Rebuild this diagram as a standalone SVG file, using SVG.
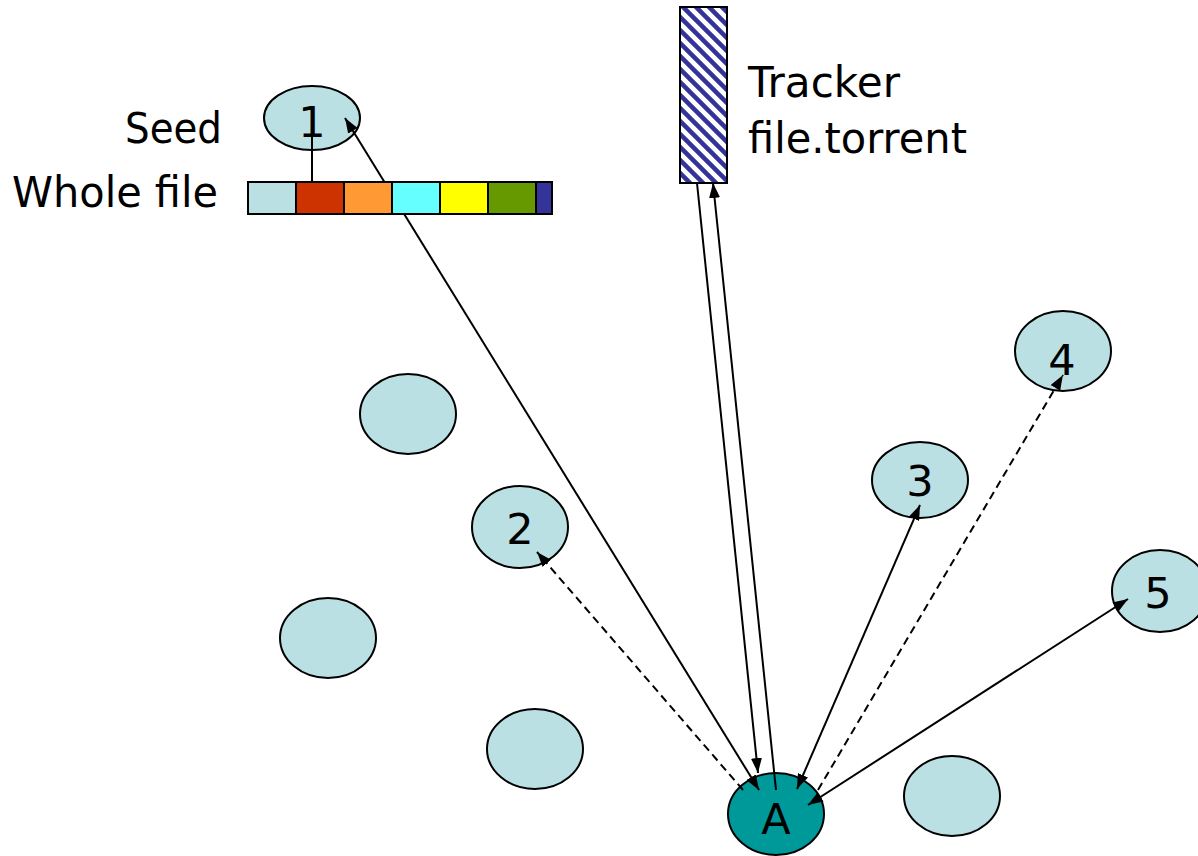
<svg xmlns="http://www.w3.org/2000/svg" width="1198" height="856" viewBox="0 0 1198 856">
<style>
.peer{fill:#BBE0E3;stroke:#000;stroke-width:2}
.a{fill:#009999;stroke:#000;stroke-width:2}
.lbl{font-family:"DejaVu Sans",Verdana,sans-serif;font-size:42px;fill:#000}
.num{font-family:"DejaVu Sans",Verdana,sans-serif;font-size:43px;fill:#000;text-anchor:middle}
.c{stroke:#000;stroke-width:2;fill:none}
.d{stroke:#000;stroke-width:2;fill:none;stroke-dasharray:8,5}
.cell{stroke:#000;stroke-width:2}
</style>
<defs>
<marker id="ah" viewBox="0 0 15 11" refX="15" refY="5.5" markerWidth="15" markerHeight="11" markerUnits="userSpaceOnUse" orient="auto-start-reverse">
<path d="M0,0 L15,5.5 L0,11 z" fill="#000"/>
</marker>
<pattern id="hatch" patternUnits="userSpaceOnUse" width="13" height="13">
<rect width="13" height="13" fill="#fff"/>
<path d="M0,0 L13,13 M-6.5,6.5 L6.5,19.5 M6.5,-6.5 L19.5,6.5" stroke="#333399" stroke-width="4.5"/>
</pattern>
</defs>
<rect width="1198" height="856" fill="#fff"/>

<g id="peers-empty">
<ellipse class="peer" cx="408" cy="414" rx="48" ry="40"/>
<ellipse class="peer" cx="328" cy="638" rx="48" ry="40"/>
<ellipse class="peer" cx="535" cy="749" rx="48" ry="40"/>
<ellipse class="peer" cx="952" cy="796" rx="48" ry="40"/>
</g>
<g id="node1"><ellipse class="peer" cx="312" cy="118" rx="48" ry="32"/></g>
<g id="node2"><ellipse class="peer" cx="520" cy="527" rx="48" ry="41"/></g>
<g id="node3"><ellipse class="peer" cx="920" cy="480" rx="48" ry="38"/></g>
<g id="node4"><ellipse class="peer" cx="1063" cy="351" rx="48" ry="40"/></g>
<g id="node5"><ellipse class="peer" cx="1160" cy="591" rx="48" ry="41"/></g>
<g id="nodeA"><ellipse class="a" cx="776" cy="814" rx="48" ry="41"/></g>
<g id="tracker"><rect x="680" y="7" width="47" height="176" fill="url(#hatch)" stroke="#000" stroke-width="2"/></g>

<g id="connectors">
<line class="c" x1="759" y1="790" x2="345" y2="118" marker-start="url(#ah)" marker-end="url(#ah)"/>
<line class="c" x1="697" y1="183" x2="758" y2="773" marker-end="url(#ah)"/>
<line class="c" x1="776" y1="790" x2="713" y2="183" marker-end="url(#ah)"/>
<line class="c" x1="797" y1="789" x2="920" y2="505" marker-start="url(#ah)" marker-end="url(#ah)"/>
<line class="c" x1="808" y1="805" x2="1128" y2="599" marker-start="url(#ah)" marker-end="url(#ah)"/>
<line class="d" x1="743" y1="790" x2="537" y2="552" marker-end="url(#ah)"/>
<line class="d" x1="818" y1="790" x2="1063" y2="375" marker-end="url(#ah)"/>
<line class="c" x1="312" y1="137" x2="312" y2="182"/>
</g>

<g id="wholefile">
<rect class="cell" x="248" y="182" width="48" height="32" fill="#BBE0E3"/>
<rect class="cell" x="296" y="182" width="48" height="32" fill="#CC3300"/>
<rect class="cell" x="344" y="182" width="48" height="32" fill="#FF9933"/>
<rect class="cell" x="392" y="182" width="48" height="32" fill="#66FFFF"/>
<rect class="cell" x="440" y="182" width="48" height="32" fill="#FFFF00"/>
<rect class="cell" x="488" y="182" width="48" height="32" fill="#669900"/>
<rect class="cell" x="536" y="182" width="16" height="32" fill="#333399"/>
</g>

<g id="labels">
<text class="lbl" x="125" y="143" textLength="97" lengthAdjust="spacingAndGlyphs">Seed</text>
<text class="lbl" x="12" y="207" textLength="206" lengthAdjust="spacingAndGlyphs">Whole file</text>
<text class="lbl" x="748" y="97" textLength="152" lengthAdjust="spacingAndGlyphs">Tracker</text>
<text class="lbl" x="748" y="153" textLength="219" lengthAdjust="spacingAndGlyphs">file.torrent</text>
<text class="num" x="312" y="137">1</text>
<text class="num" x="520" y="544">2</text>
<text class="num" x="920" y="496">3</text>
<text class="num" x="1062" y="375">4</text>
<text class="num" x="1158" y="608">5</text>
<text class="num" x="776" y="834">A</text>
</g>
</svg>
